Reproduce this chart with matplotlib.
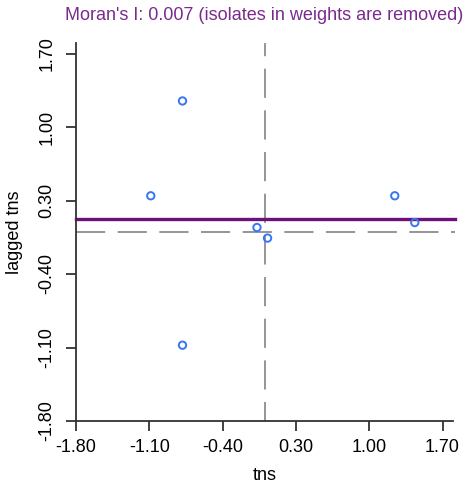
import numpy as np
import matplotlib
matplotlib.use("Agg")
import matplotlib.pyplot as plt

plt.rcParams['font.family'] = ['Liberation Sans', 'DejaVu Sans']
plt.rcParams['lines.scale_dashes'] = False

# values
tns = [-0.783, -1.086, -0.783, -0.072, 0.029, 1.244, 1.435]
lagged_tns = [1.248, 0.345, -1.078, 0.043, -0.058, 0.345, 0.090]
moran_i = 0.007
fit_level = 0.128
ticks = [-1.80, -1.10, -0.40, 0.30, 1.00, 1.70]
lim = (-1.8, 1.8)

fig = plt.figure(figsize=(4.71, 4.87), dpi=100)
ax = fig.add_axes([76/471, 1-421/487, 377/471, 378/487])

# reference lines at zero (vertical one drawn top-down)
ax.plot([0, 0], [lim[1], lim[0]], color='#8c8c8c', lw=1.3,
        ls=(11.5, (21, 9)), zorder=1)
ax.plot([lim[0], lim[1] + 0.02], [0, 0], color='#8c8c8c', lw=1.3,
        ls=(0, (21, 9)), zorder=1, clip_on=False)

# fitted line (slope is tiny, drawn flat as in the picture)
ax.plot([lim[0], lim[1] + 0.02], [fit_level, fit_level], color='#6e1079',
        lw=2.4, zorder=2, clip_on=False)

ax.scatter(tns, lagged_tns, s=28, facecolors='none', edgecolors='#3677f0',
           linewidths=1.4, zorder=3)

ax.set_xlim(lim)
ax.set_ylim(lim)
ax.set_xticks(ticks)
ax.set_yticks(ticks)
ax.set_xticklabels(['%.2f' % t for t in ticks])
ax.set_yticklabels(['%.2f' % t for t in ticks], rotation=90, va='center')

for s in ['top', 'right']:
    ax.spines[s].set_visible(False)
for s in ['left', 'bottom']:
    ax.spines[s].set_color('#333333')
    ax.spines[s].set_linewidth(1.3)
ax.tick_params(direction='out', length=7, width=1.3, color='#333333',
               labelsize=13)
ax.tick_params(axis='x', pad=6)
ax.tick_params(axis='y', pad=8)

ax.set_xlabel('tns', fontsize=13, labelpad=8)
ax.set_ylabel('lagged tns', fontsize=13, labelpad=11)

fig.text(264/471, 1-16/487, "Moran's I: %.3f (isolates in weights are removed)" % moran_i,
         color='#7a2a8c', fontsize=13, ha='center', va='center')

fig.savefig('out.png', dpi=100)
